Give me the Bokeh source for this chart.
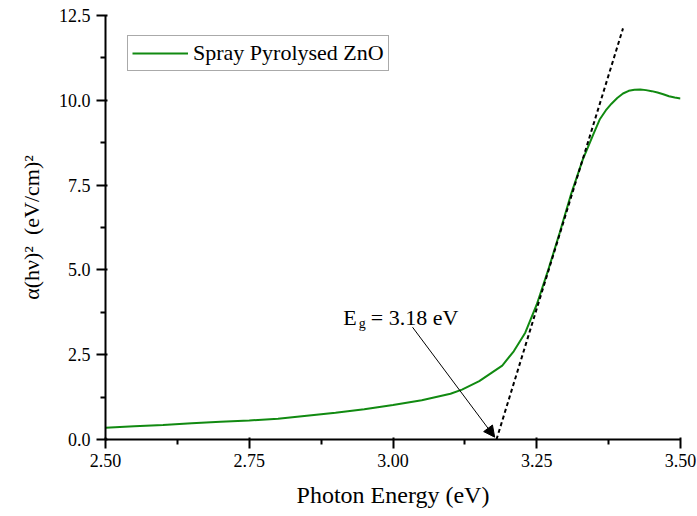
from bokeh.plotting import figure
from bokeh.models import (Range1d, FixedTicker, Label, Arrow, NormalHead,
                          Legend, LegendItem, LinearAxis)
from bokeh.embed import file_html
from bokeh.resources import INLINE

# ---- data ----
energy = [2.50, 2.55, 2.60, 2.65, 2.70, 2.75, 2.80, 2.85, 2.90, 2.95,
          3.00, 3.05, 3.10, 3.12, 3.15, 3.17, 3.19, 3.21, 3.23, 3.25,
          3.27, 3.29, 3.31, 3.33, 3.35, 3.36, 3.37, 3.38, 3.39, 3.40,
          3.41, 3.42, 3.43, 3.44, 3.45, 3.46, 3.47, 3.48, 3.49, 3.50]
alpha_hv2 = [0.35, 0.39, 0.43, 0.48, 0.52, 0.56, 0.61, 0.70, 0.79, 0.89,
             1.02, 1.16, 1.35, 1.47, 1.72, 1.95, 2.18, 2.60, 3.15, 3.98,
             5.00, 6.10, 7.25, 8.25, 9.06, 9.45, 9.70, 9.90, 10.07, 10.20,
             10.28, 10.31, 10.32, 10.30, 10.27, 10.23, 10.18, 10.12, 10.08, 10.05]
fit_x = [3.18, 3.40]
fit_y = [0.0, 12.12]

x_ticks = [2.50, 2.75, 3.00, 3.25, 3.50]
x_minor = [2.625, 2.875, 3.125, 3.375]
x_tick_labels = ["2.50", "2.75", "3.00", "3.25", "3.50"]
y_ticks = [0.0, 2.5, 5.0, 7.5, 10.0, 12.5]
y_minor = [1.25, 3.75, 6.25, 8.75, 11.25]
y_tick_labels = ["0.0", "2.5", "5.0", "7.5", "10.0", "12.5"]

series_label = "Spray Pyrolysed ZnO"
eg_value = 3.18
FONT = "serif"

p = figure(width=697, height=516, output_backend="svg", toolbar_location=None,
           x_range=Range1d(2.5, 3.5), y_range=Range1d(0, 12.5),
           x_axis_type=None, y_axis_type=None,
           min_border_left=105, min_border_right=17, min_border_top=15,
           min_border_bottom=77)
p.grid.visible = False
p.outline_line_color = None

axis_style = dict(axis_line_width=2, axis_line_color="black",
                  major_tick_line_width=2, major_tick_line_color="black",
                  minor_tick_line_width=2, minor_tick_line_color="black",
                  major_tick_out=9, minor_tick_out=5,
                  major_label_text_font=FONT, major_label_text_font_size="18px",
                  major_label_text_color="black",
                  axis_label_text_font=FONT, axis_label_text_font_style="normal",
                  axis_label_text_color="black")

xaxis = LinearAxis(ticker=FixedTicker(ticks=x_ticks, minor_ticks=x_minor),
                   major_label_overrides={t: s for t, s in zip(x_ticks, x_tick_labels)},
                   axis_label="Photon Energy (eV)", axis_label_text_font_size="24px",
                   major_label_standoff=5, axis_label_standoff=12, **axis_style)
yaxis = LinearAxis(ticker=FixedTicker(ticks=y_ticks, minor_ticks=y_minor),
                   major_label_overrides={t: s for t, s in zip(y_ticks, y_tick_labels)},
                   axis_label="α(hν)²\u00a0 (eV/cm)²", axis_label_text_font_size="22px",
                   major_label_standoff=6, axis_label_standoff=12, **axis_style)
p.add_layout(xaxis, "below")
p.add_layout(yaxis, "left")

curve = p.line(energy, alpha_hv2, line_color="#118a11", line_width=2)
p.line(fit_x, fit_y, line_color="black", line_width=2, line_dash="4 3")

# annotation
p.add_layout(Label(x=2.9134, y=3.605, text="E", text_font=FONT,
                   text_font_size="22px", text_color="black", text_baseline="alphabetic"))
p.add_layout(Label(x=2.9404, y=3.42, text="g", text_font=FONT,
                   text_font_size="14px", text_color="black", text_baseline="alphabetic"))
p.add_layout(Label(x=2.9517, y=3.605, text="\u00a0= %.2f eV" % eg_value, text_font=FONT,
                   text_font_size="22px", text_color="black", text_baseline="alphabetic"))
p.add_layout(Arrow(x_start=3.034, y_start=3.31, x_end=3.1768, y_end=0.07,
                   line_width=1, line_color="black",
                   end=NormalHead(size=11, fill_color="black", line_color="black")))

legend = Legend(items=[LegendItem(label=series_label, renderers=[curve])],
                location=(22, 368), orientation="vertical",
                border_line_color="#555555", border_line_width=1,
                background_fill_alpha=1.0, label_text_font=FONT,
                label_text_font_size="22px", label_text_color="black",
                glyph_width=56, glyph_height=20, label_height=20,
                label_standoff=5, padding=4, margin=0, spacing=0)
p.add_layout(legend)

open("out.html", "w").write(file_html(p, INLINE))
